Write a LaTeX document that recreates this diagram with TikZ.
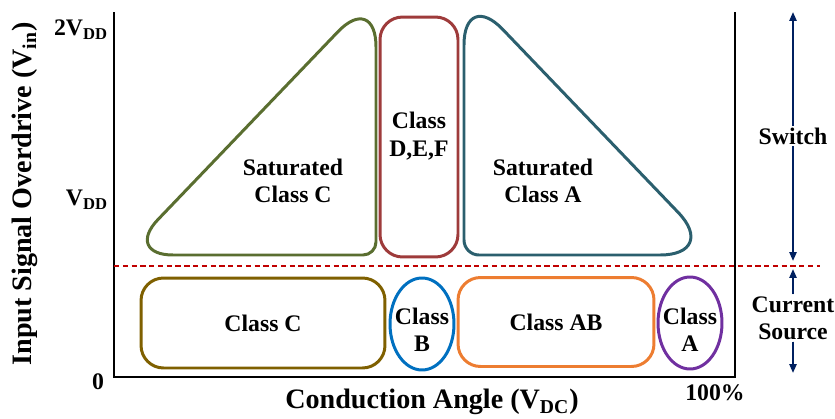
\documentclass[tikz,border=0pt]{standalone}
\usepackage{fontspec}
\setmainfont{Liberation Serif}
\usetikzlibrary{positioning,arrows.meta,shapes.geometric}
\definecolor{SatCGreen}{HTML}{5A6E30}
\definecolor{DEFRed}{HTML}{9E3B3B}
\definecolor{SatATeal}{HTML}{2B5F6E}
\definecolor{ClassCGold}{HTML}{7F6000}
\definecolor{ClassBBlue}{HTML}{0070C0}
\definecolor{ClassABOrange}{HTML}{ED7D31}
\definecolor{ClassAPurple}{HTML}{7030A0}
\definecolor{LimitRed}{HTML}{C00000}
\definecolor{ModeNavy}{HTML}{002060}

\begin{document}
\begin{tikzpicture}[
  x=0.02cm, y=-0.02cm,
  lbl/.style={align=center, font=\fontsize{13.5}{15.5}\selectfont\bfseries, inner sep=1pt},
  axlbl/.style={font=\fontsize{16}{18}\selectfont\bfseries, inner sep=1pt},
  region/.style={line width=1.7pt, line join=round},
  rbox/.style={region, rectangle, rounded corners=0.45cm, align=center, font=\fontsize{13.5}{15.5}\selectfont\bfseries},
  oval/.style={region, ellipse, inner sep=0pt, minimum width=1.28cm, minimum height=1.84cm},
  axis/.style={line width=1.3pt},
  limit/.style={line width=1.1pt, draw=LimitRed, dash pattern=on 3pt off 2pt},
  modearr/.style={-{Triangle[length=5pt,width=4pt]}, line width=1.1pt, draw=ModeNavy, fill=ModeNavy}
]
\useasboundingbox (0,0) rectangle (835,419);

% axes
\coordinate (ytop) at (114,12);
\coordinate (orig) at (114,377);
\coordinate (xend) at (735,377);
\coordinate (rtop) at (735,12);
\draw[axis] (ytop) -- (orig) -- (xend) -- (rtop);

\node[lbl, anchor=east] (vdd2) at (110,30)  {2V\textsubscript{DD}};
\node[lbl, anchor=east] (vdd)  at (110,200) {V\textsubscript{DD}};
\node[lbl] (zero) at (98,382)  {0};
\node[lbl] (full) at (715,393) {100\%};
\node[axlbl, rotate=90] (ylab) at (25,194) {Input Signal Overdrive (V\textsubscript{in})};
\node[axlbl] (xlab) at (432,402) {Conduction Angle (V\textsubscript{DC})};

% switch / current source limit
\coordinate (limL) at (114,266);
\coordinate (limR) at (820,266);
\draw[limit] (limL) -- (limR);

% saturated regions
\draw[region, draw=SatCGreen] (250,255) [rounded corners=0.26cm] -- (376,255)
  [rounded corners=1.1cm] -- (376,-8) [rounded corners=0.98cm] -- (124,255) -- cycle;
\node[lbl] (satC) at (293,181) {Saturated\\Class C};

\node[rbox, draw=DEFRed, minimum width=1.56cm, minimum height=4.8cm] (classDEF) at (419,137) {};
\node[lbl] (defTxt) at (419,136) {Class\\D,E,F};

\draw[region, draw=SatATeal] (580,255) [rounded corners=1.18cm] -- (719,255)
  [rounded corners=1.12cm] -- (464,-11) [rounded corners=0.3cm] -- (464,255) -- cycle;
\node[lbl] (satA) at (543,181) {Saturated\\Class A};

% current source regions
\node[rbox, draw=ClassCGold, minimum width=4.88cm, minimum height=1.8cm] (classC) at (263,323) {Class C};
\node[oval, draw=ClassBBlue] (classB) at (422,324) {};
\node[lbl] (bTxt) at (422,330) {Class\\B};
\node[rbox, draw=ClassABOrange, minimum width=3.92cm, minimum height=1.78cm] (classAB) at (556,322) {Class AB};
\node[oval, draw=ClassAPurple] (classA) at (690,323) {};
\node[lbl] (aTxt) at (690,330) {Class\\A};

% operating modes
\node[lbl, fill=white] (switch) at (793,136) {Switch};
\coordinate (swTop) at (793,12);
\coordinate (swBot) at (793,261);
\draw[modearr] (switch) -- (swTop);
\draw[modearr] (switch) -- (swBot);

\node[lbl, fill=white] (csrc) at (793,318) {Current\\Source};
\coordinate (csTop) at (793,269);
\coordinate (csBot) at (793,373);
\draw[modearr] (csrc) -- (csTop);
\draw[modearr] (csrc) -- (csBot);
\end{tikzpicture}
\end{document}
